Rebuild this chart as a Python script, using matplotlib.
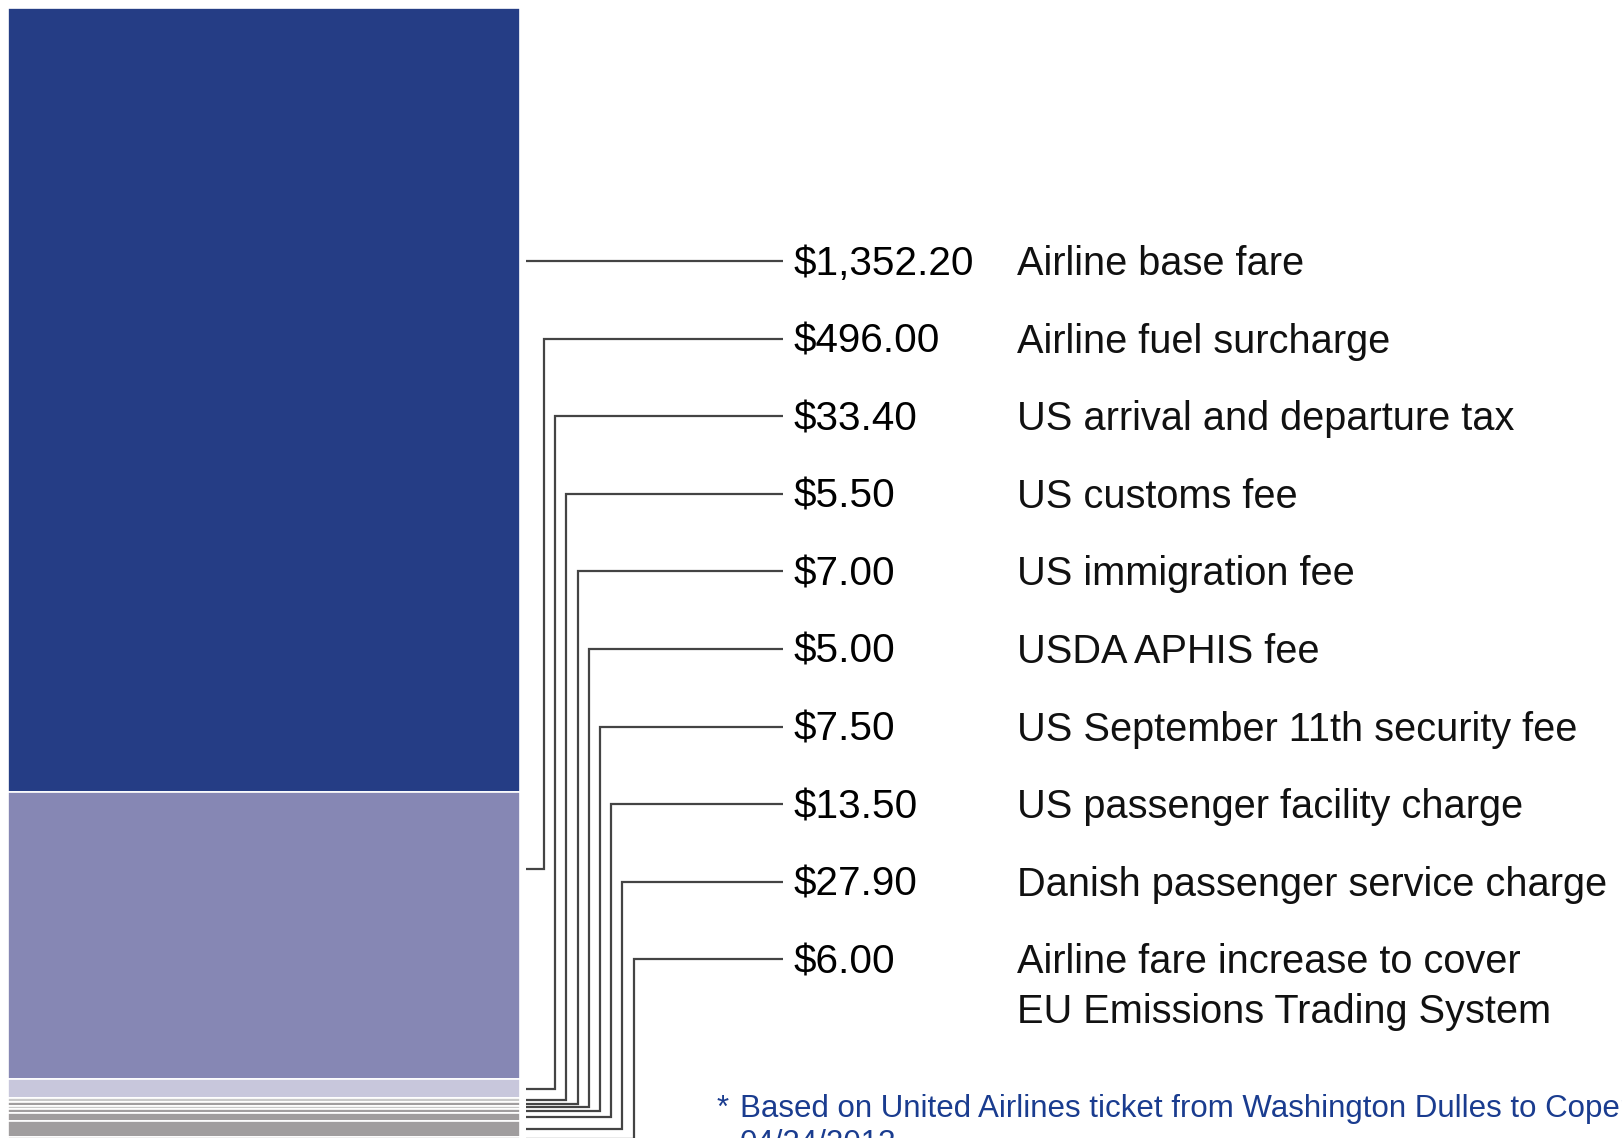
import matplotlib.pyplot as plt

# Ticket price breakdown (USD)
labels = ['Airline base fare', 'Airline fuel surcharge', 'US arrival and departure tax',
          'US customs fee', 'US immigration fee', 'USDA APHIS fee',
          'US September 11th security fee', 'US passenger facility charge',
          'Danish passenger service charge',
          'Airline fare increase to cover\nEU Emissions Trading System']
values = [1352.20, 496.00, 33.40, 5.50, 7.00, 5.00, 7.50, 13.50, 27.90, 6.00]
colors = ['#253d85', '#8687b4', '#c8c7dc', '#c8c8c8', '#a09d9e', '#c8c8c8',
          '#a09d9e', '#a09d9e', '#a09d9e', '#a09d9e']
note = 'Based on United Airlines ticket from Washington Dulles to Copenhagen,'
note2 = '04/24/2013'

W, H = 1622, 1138
top_px = 8          # top of the bar in pixels
scale = 0.5795      # pixels per dollar
row0 = 275          # baseline of first row (px)
row_gap = 77.6


def py(p):
    # pixel row -> data y (dollars)
    return (p - top_px) / scale


fig = plt.figure(figsize=(W / 100, H / 100), dpi=100)
ax = fig.add_axes([0, 0, 1, 1])
ax.set_xlim(0, W)
ax.set_ylim(py(H), py(0))
ax.axis('off')

# stacked bar
bottoms = []
acc = 0
for v in values:
    bottoms.append(acc)
    acc += v
ax.bar(264, values, width=512, bottom=bottoms, color=colors,
       edgecolor='white', linewidth=1.2)

line_kw = dict(color='#444444', lw=1.6, solid_capstyle='butt', solid_joinstyle='miter')
for i, (lab, v, b) in enumerate(zip(labels, values, bottoms)):
    base = row0 + i * row_gap
    ly = py(base - 14)
    # values and labels
    ax.text(794, py(base), '${:,.2f}'.format(v), fontsize=29.2, family='Liberation Sans',
            va='baseline', ha='left', color='black')
    lines = lab.split('\n')
    for k, t in enumerate(lines):
        ax.text(1017, py(base + 49.6 * k), t, fontsize=28.6, family='Liberation Sans',
                va='baseline', ha='left', color='#111111')
    # leader line
    if b <= ly <= b + v:
        ax.plot([526, 783], [ly, ly], **line_kw)
    else:
        ty = min(b + v / 2, b + row_gap / scale)
        xv = 544 + 11.2 * (i - 1)
        ax.plot([783, xv, xv, 526], [ly, ly, ty, ty], **line_kw)

ax.text(717, py(1117), '*', fontsize=22.5, family='Liberation Sans', color='#1a3c8f',
        va='baseline', ha='left')
ax.text(740, py(1117), note, fontsize=22.5, family='Liberation Sans',
        color='#1a3c8f', va='baseline', ha='left')
ax.text(740, py(1152), note2, fontsize=22.5, family='Liberation Sans',
        color='#1a3c8f', va='baseline', ha='left')

fig.savefig('out.png', dpi=100)
